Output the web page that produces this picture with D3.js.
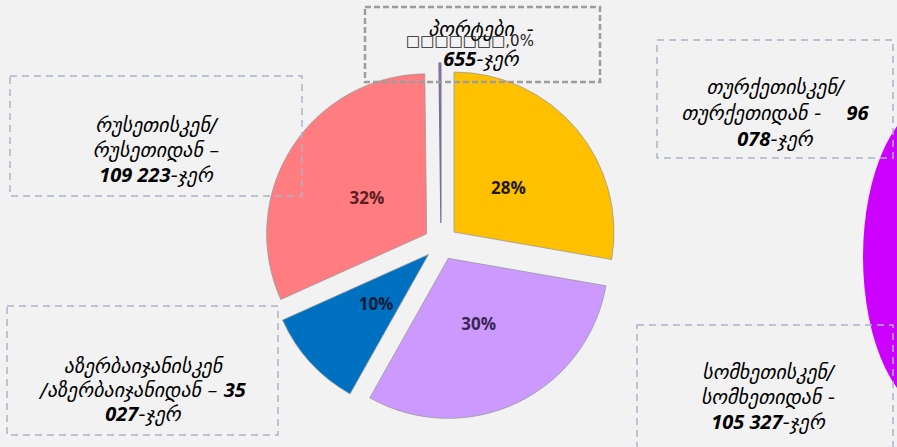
<!DOCTYPE html>
<html>
<head>
<meta charset="utf-8">
<script src="https://cdn.jsdelivr.net/npm/d3@7"></script>
<style>
  body { margin: 0; background: #f2f2f2; }
  svg { display: block; }
  text { white-space: pre; }
</style>
</head>
<body>
<svg id="chart"></svg>
<script>
// data
var countries = ["თურქეთი", "სომხეთი", "აზერბაიჯანი", "რუსეთი", "პორტები"];
var trips = [96078, 105327, 35027, 109223, 655];
var percentLabels = ["28%", "30%", "10%", "32%", ""];
var sliceColors = ["#ffc000", "#cc99ff", "#0070c0", "#ff7c80", "#8a7aa8"];
var labelColors = ["#231800", "#3b2656", "#0b1d3a", "#5a1f22", "#000"];

// callout text, one array of lines per country, [normal, bold, normal] parts
var calloutLines = [
    [["თურქეთისკენ/", "", ""], ["თურქეთიდან -    ", "96", ""], ["", "078", "-ჯერ"]],
    [["სომხეთისკენ/", "", ""], ["სომხეთიდან -", "", ""], ["", "105 327", "-ჯერ"]],
    [["აზერბაიჯანისკენ", "", ""], ["/აზერბაიჯანიდან – ", "35", ""], ["", "027", "-ჯერ"]],
    [["რუსეთისკენ/", "", ""], ["რუსეთიდან –", "", ""], ["", "109 223", "-ჯერ"]],
    [["პორტები  -", "", ""], ["□□□□□□□,0%", "", ""], ["", "655", "-ჯერ"]]
];

// MAIN
var width = 897, height = 447;
var svg = d3.select("#chart").attr("width", width).attr("height", height);

var cx = 441, cy = 243, radius = 160;

// magenta piece of the neighbouring chart at the right edge
svg.append("ellipse")
    .attr("cx", 940).attr("cy", 257)
    .attr("rx", 77).attr("ry", 158)
    .attr("fill", "#cc00ff");

var pie = d3.pie().sort(null).value(function (d) { return d; });
var arcs = pie(trips);

var arc = d3.arc().innerRadius(0).outerRadius(radius);
var labelArc = d3.arc().innerRadius(71).outerRadius(71);

function explode(d, i) {
    var a = (d.startAngle + d.endAngle) / 2;
    var off = i === 4 ? 20 : 17;
    return [Math.sin(a) * off, -Math.cos(a) * off];
}

var g = svg.append("g").attr("transform", "translate(" + cx + "," + cy + ")");

var slice = g.selectAll("g.slice")
    .data(arcs)
    .enter().append("g")
    .attr("class", "slice")
    .attr("transform", function (d, i) {
        var o = explode(d, i);
        return "translate(" + o[0] + "," + o[1] + ")";
    });

slice.append("path")
    .attr("d", arc)
    .attr("fill", function (d, i) { return sliceColors[i]; })
    .attr("stroke", function (d, i) { return i === 4 ? "#7a6c96" : "#9a9a9a"; })
    .attr("stroke-width", function (d, i) { return i === 4 ? 1.2 : 0.8; });

slice.append("text")
    .attr("transform", function (d) {
        var c = labelArc.centroid(d);
        return "translate(" + c[0] + "," + (c[1] + 2) + ")";
    })
    .attr("text-anchor", "middle")
    .attr("dy", "0.35em")
    .attr("font-family", "'Open Sans', sans-serif")
    .attr("font-weight", "bold")
    .attr("font-size", "17px")
    .attr("fill", function (d, i) { return labelColors[i]; })
    .text(function (d, i) { return percentLabels[i]; });

// callout boxes
var boxes = [
    { x: 657, y: 40, w: 236, h: 118, tx: 775, ty: 94, dy: 26, stroke: "#aab3c6", sw: 1.5, dash: "7,5" },
    { x: 637, y: 325, w: 256, h: 130, tx: 768, ty: 379, dy: 25, stroke: "#aab3c6", sw: 1.5, dash: "7,5" },
    { x: 7, y: 306, w: 271, h: 129, tx: 143, ty: 373, dy: 24, stroke: "#aab3c6", sw: 1.5, dash: "7,5" },
    { x: 10, y: 76, w: 292, h: 120, tx: 156, ty: 132, dy: 25, stroke: "#aab3c6", sw: 1.5, dash: "7,5" },
    { x: 365, y: 7, w: 235, h: 75, tx: 481, ty: 36, dy: 10, stroke: "#9d9d9d", sw: 2.5, dash: "6,3" }
];

var callout = svg.append("g").selectAll("g")
    .data(boxes)
    .enter().append("g");

callout.append("rect")
    .attr("x", function (d) { return d.x; })
    .attr("y", function (d) { return d.y; })
    .attr("width", function (d) { return d.w; })
    .attr("height", function (d) { return d.h; })
    .attr("fill", "none")
    .attr("stroke", function (d) { return d.stroke; })
    .attr("stroke-width", function (d) { return d.sw; })
    .attr("stroke-dasharray", function (d) { return d.dash; });

callout.each(function (b, i) {
    var lines = calloutLines[i];
    var t = d3.select(this).append("text")
        .attr("text-anchor", "middle")
        .attr("font-family", "'DejaVu Sans', sans-serif")
        .attr("font-style", "italic")
        .attr("font-size", "20px")
        .attr("fill", "#000");
    lines.forEach(function (parts, k) {
        var y = b.ty + (i === 4 && k === 2 ? 30 : k * b.dy);
        var first = true;
        parts.forEach(function (p, j) {
            if (!p) return;
            var s = t.append("tspan").text(p);
            if (first) {
                s.attr("x", i === 4 && k === 1 ? b.tx - 11 : b.tx).attr("y", y);
                first = false;
            }
            if (j === 1) {
                s.attr("font-family", "'Open Sans', sans-serif")
                    .attr("font-weight", "bold")
                    .attr("font-size", "20px");
            }
            if (i === 4 && k === 1) {
                s.attr("font-size", "15px").attr("font-style", "normal").attr("fill", "#222");
            }
        });
    });
});
</script>
</body>
</html>
